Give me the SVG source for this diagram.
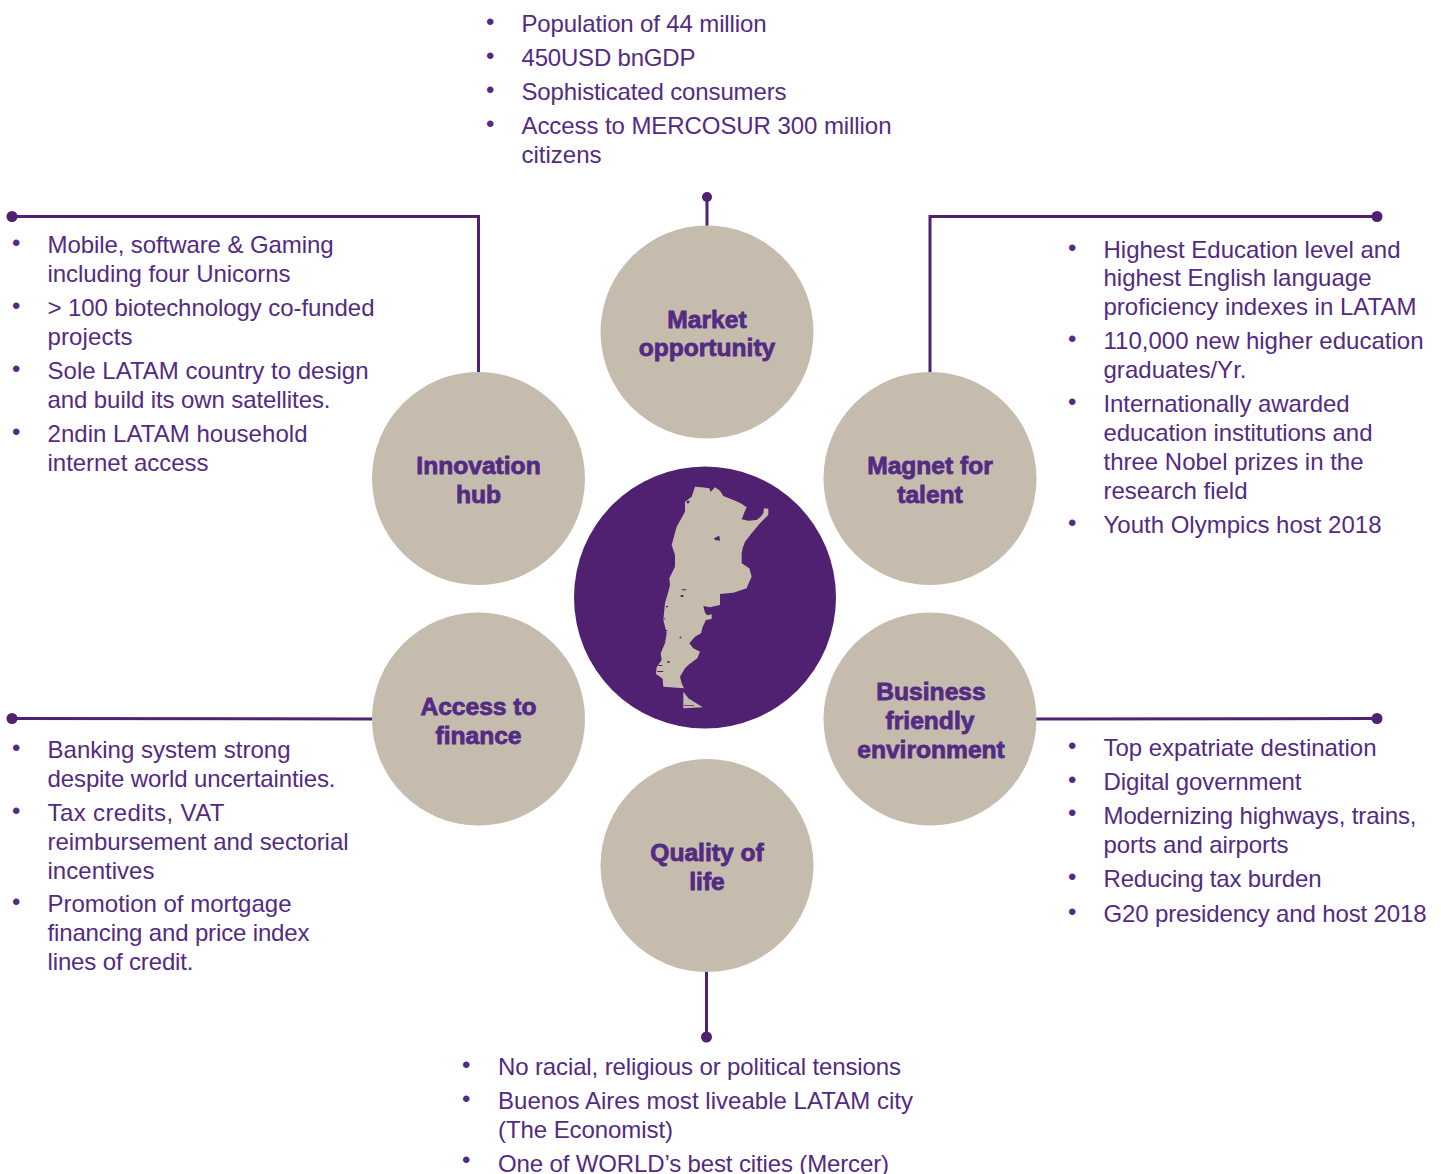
<svg xmlns="http://www.w3.org/2000/svg" width="1441" height="1174" viewBox="0 0 1441 1174">
<style>
text{font-family:"Liberation Sans",Arial,sans-serif;fill:#532b82}
.t{font-size:24px}
.b{font-size:24px}
.n{font-size:24.600px;font-weight:700;text-anchor:middle;stroke:#532b82;stroke-width:.8px}
.c{fill:#c6bcae}
.l{fill:none;stroke:#4f2170;stroke-width:3}
.d{fill:#4f2170}
</style>
<rect width="1441" height="1174" fill="#fff"/>
<g id="connectors">
<path class="l" d="M707 197V226"/><circle class="d" cx="707" cy="197" r="5"/>
<path class="l" d="M12 216.500H478.500V373"/><circle class="d" cx="12" cy="216.500" r="5.500"/>
<path class="l" d="M1377 216.500H930V373"/><circle class="d" cx="1377" cy="216.500" r="5.500"/>
<path class="l" d="M12 718.500L373 719"/><circle class="d" cx="12" cy="718.500" r="5.500"/>
<path class="l" d="M1036 719L1377 718.500"/><circle class="d" cx="1377" cy="718.500" r="5.500"/>
<path class="l" d="M706.500 971V1037"/><circle class="d" cx="706.500" cy="1037" r="5.500"/>
</g>
<g id="center"><circle class="d" cx="705" cy="597.500" r="131"/>
<g transform="translate(620 470) scale(.3333)"><path class="c" fill-rule="evenodd" d="M225 50L245 52 268 55 272 66 285 52 300 62 310 78 340 90 362 100 380 112 372 130 365 148 385 152 410 150 422 140 430 130 432 115 445 116 445 135 432 148 420 160 395 190 375 215 368 235 365 250 365 280 388 295 395 320 385 342 380 355 340 368 300 372 300 405 270 412 250 408 255 428 262 436 275 433 275 447 258 450 248 470 243 490 225 500 208 520 220 535 240 545 232 565 205 585 195 595 180 620 185 640 192 655 130 650 128 626 108 612 110 592 125 570 122 550 135 520 140 490 130 450 135 400 145 365 150 345 148 325 165 290 165 255 155 225 170 170 195 125 195 95 215 80ZM282 205L298 197 300 212 285 210Z"/><path class="c" d="M190 665L205 685 248 712 190 715Z"/><path class="d" d="M182 375h8v6h-8zM185 358h14v3h-14zM138 408h6v4h-6zM132 480h10v3h-10zM142 573h7v5h-7zM112 603h18v3h-18zM115 585h12v3h-12zM179 500h5v5h-5zM200 92h8v8h-8zM130 445h6v3h-6zM192 706h30v2h-30z"/></g></g>
<g id="market"><circle class="c" cx="707" cy="332" r="106.500"/><text class="n" x="707" y="327.500">Market</text><text class="n" x="707" y="356">opportunity</text></g>
<g id="innovation"><circle class="c" cx="478.500" cy="478.500" r="106.500"/><text class="n" x="478.500" y="473.500">Innovation</text><text class="n" x="478.500" y="502.500">hub</text></g>
<g id="magnet"><circle class="c" cx="930" cy="478.500" r="106.500"/><text class="n" x="930" y="473.500">Magnet for</text><text class="n" x="930" y="502.500">talent</text></g>
<g id="finance"><circle class="c" cx="478.500" cy="719" r="106.500"/><text class="n" x="478.500" y="714.500">Access to</text><text class="n" x="478.500" y="743.500">finance</text></g>
<g id="business"><circle class="c" cx="930" cy="719" r="106.500"/><text class="n" x="931" y="700">Business</text><text class="n" x="930" y="729">friendly</text><text class="n" x="931" y="758">environment</text></g>
<g id="quality"><circle class="c" cx="707" cy="865.500" r="106.500"/><text class="n" x="707" y="860.500">Quality of</text><text class="n" x="707" y="889.500">life</text></g>
<g id="text-market">
<text class="b" x="486" y="30">•</text><text class="t" x="521.500" y="32" textLength="245">Population of 44 million</text>
<text class="b" x="486" y="64">•</text><text class="t" x="521.500" y="66" textLength="174">450USD bnGDP</text>
<text class="b" x="486" y="98">•</text><text class="t" x="521.500" y="100" textLength="265">Sophisticated consumers</text>
<text class="b" x="486" y="132">•</text><text class="t" x="521.500" y="134" textLength="370">Access to MERCOSUR 300 million</text>
<text class="t" x="521.500" y="163" textLength="80">citizens</text>
</g>
<g id="text-innovation">
<text class="b" x="12" y="251">•</text><text class="t" x="47.500" y="253" textLength="286">Mobile, software &amp; Gaming</text>
<text class="t" x="47.500" y="282" textLength="243">including four Unicorns</text>
<text class="b" x="12" y="314">•</text><text class="t" x="47.500" y="316" textLength="327">&gt; 100 biotechnology co-funded</text>
<text class="t" x="47.500" y="345" textLength="85">projects</text>
<text class="b" x="12" y="377">•</text><text class="t" x="47.500" y="379" textLength="321">Sole LATAM country to design</text>
<text class="t" x="47.500" y="408" textLength="283">and build its own satellites.</text>
<text class="b" x="12" y="440">•</text><text class="t" x="47.500" y="442" textLength="260">2ndin LATAM household</text>
<text class="t" x="47.500" y="471" textLength="161">internet access</text>
</g>
<g id="text-magnet">
<text class="b" x="1068" y="256">•</text><text class="t" x="1103.500" y="258" textLength="297">Highest Education level and</text>
<text class="t" x="1103.500" y="286" textLength="268">highest English language</text>
<text class="t" x="1103.500" y="315" textLength="313">proficiency indexes in LATAM</text>
<text class="b" x="1068" y="347">•</text><text class="t" x="1103.500" y="349" textLength="320">110,000 new higher education</text>
<text class="t" x="1103.500" y="378" textLength="143">graduates/Yr.</text>
<text class="b" x="1068" y="410">•</text><text class="t" x="1103.500" y="412" textLength="246">Internationally awarded</text>
<text class="t" x="1103.500" y="441" textLength="269">education institutions and</text>
<text class="t" x="1103.500" y="470" textLength="260">three Nobel prizes in the</text>
<text class="t" x="1103.500" y="499" textLength="144">research field</text>
<text class="b" x="1068" y="531">•</text><text class="t" x="1103.500" y="533" textLength="278">Youth Olympics host 2018</text>
</g>
<g id="text-finance">
<text class="b" x="12" y="756">•</text><text class="t" x="47.500" y="758" textLength="243">Banking system strong</text>
<text class="t" x="47.500" y="787" textLength="288">despite world uncertainties.</text>
<text class="b" x="12" y="819">•</text><text class="t" x="47.500" y="821" textLength="177">Tax credits, VAT</text>
<text class="t" x="47.500" y="850" textLength="301">reimbursement and sectorial</text>
<text class="t" x="47.500" y="879" textLength="107">incentives</text>
<text class="b" x="12" y="910">•</text><text class="t" x="47.500" y="912" textLength="244">Promotion of mortgage</text>
<text class="t" x="47.500" y="941" textLength="262">financing and price index</text>
<text class="t" x="47.500" y="970" textLength="146">lines of credit.</text>
</g>
<g id="text-business">
<text class="b" x="1068" y="754">•</text><text class="t" x="1103.500" y="756" textLength="273">Top expatriate destination</text>
<text class="b" x="1068" y="788">•</text><text class="t" x="1103.500" y="790" textLength="198">Digital government</text>
<text class="b" x="1068" y="821">•</text><text class="t" x="1103.500" y="824" textLength="313">Modernizing highways, trains,</text>
<text class="t" x="1103.500" y="853" textLength="185">ports and airports</text>
<text class="b" x="1068" y="885">•</text><text class="t" x="1103.500" y="887" textLength="218">Reducing tax burden</text>
<text class="b" x="1068" y="920">•</text><text class="t" x="1103.500" y="922" textLength="323">G20 presidency and host 2018</text>
</g>
<g id="text-quality">
<text class="b" x="462" y="1073">•</text><text class="t" x="498" y="1075" textLength="403">No racial, religious or political tensions</text>
<text class="b" x="462" y="1107">•</text><text class="t" x="498" y="1109" textLength="415">Buenos Aires most liveable LATAM city</text>
<text class="t" x="498" y="1138" textLength="175">(The Economist)</text>
<text class="b" x="462" y="1168">•</text><text class="t" x="498" y="1171.500" textLength="391">One of WORLD’s best cities (Mercer)</text>
</g>
</svg>
